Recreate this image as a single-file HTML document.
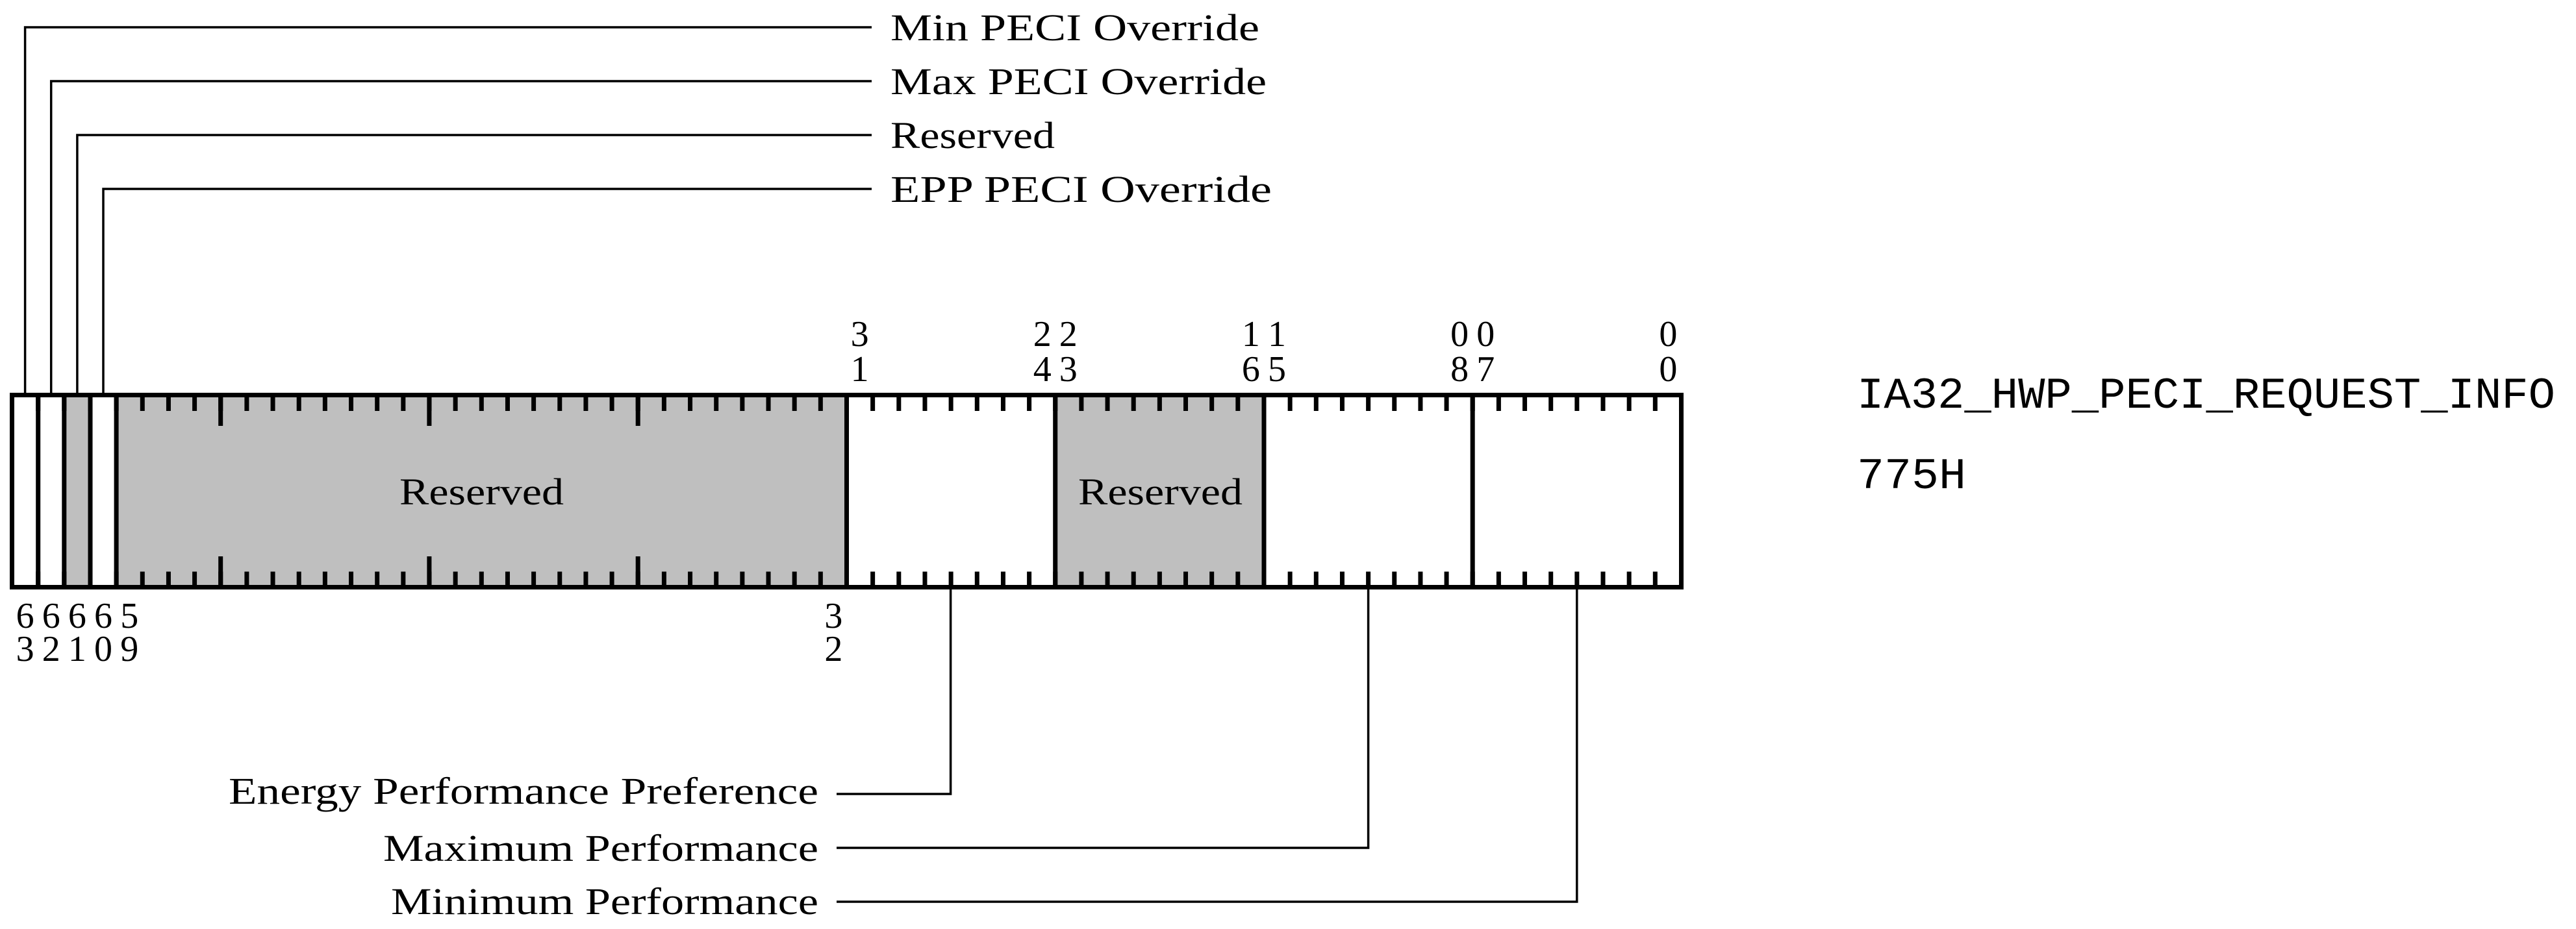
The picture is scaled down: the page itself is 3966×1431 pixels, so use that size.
<!DOCTYPE html>
<html><head><meta charset="utf-8"><style>
html,body{margin:0;padding:0;background:#fff;}
svg{display:block;}
.t{font-family:"Liberation Serif",serif;font-size:58px;fill:#000;}
.d{font-family:"Liberation Serif",serif;font-size:56px;fill:#000;text-anchor:middle;}
.m{font-family:"Liberation Mono",monospace;font-size:68px;fill:#000;}
</style></head><body>
<svg width="3966" height="1431" viewBox="0 0 3966 1431" xmlns="http://www.w3.org/2000/svg">
<!-- fills -->
<rect x="18.5" y="608.5" width="2570" height="296" fill="#fff"/>
<rect x="98.8" y="608.5" width="40.2" height="296" fill="#bfbfbf"/>
<rect x="179.1" y="608.5" width="1124.4" height="296" fill="#bfbfbf"/>
<rect x="1624.7" y="608.5" width="321.3" height="296" fill="#bfbfbf"/>
<!-- ticks -->
<line x1="18.5" y1="622.5" x2="2588.5" y2="622.5" stroke="#000" stroke-width="21" stroke-dasharray="7 33.156" stroke-dashoffset="3.5"/>
<line x1="18.5" y1="891" x2="2588.5" y2="891" stroke="#000" stroke-width="21" stroke-dasharray="7 33.156" stroke-dashoffset="3.5"/>
<g stroke="#000" stroke-width="7">
<line x1="339.7" y1="612" x2="339.7" y2="656"/><line x1="660.9" y1="612" x2="660.9" y2="656"/><line x1="982.2" y1="612" x2="982.2" y2="656"/>
<line x1="339.7" y1="857" x2="339.7" y2="901"/><line x1="660.9" y1="857" x2="660.9" y2="901"/><line x1="982.2" y1="857" x2="982.2" y2="901"/>
<!-- dividers -->
<line x1="58.7" y1="608" x2="58.7" y2="905"/><line x1="98.8" y1="608" x2="98.8" y2="905"/><line x1="139" y1="608" x2="139" y2="905"/><line x1="179.1" y1="608" x2="179.1" y2="905"/>
<line x1="1303.5" y1="608" x2="1303.5" y2="905"/><line x1="1624.7" y1="608" x2="1624.7" y2="905"/><line x1="1946" y1="608" x2="1946" y2="905"/><line x1="2267.2" y1="608" x2="2267.2" y2="905"/>
</g>
<rect x="18.5" y="608.5" width="2570" height="296" fill="none" stroke="#000" stroke-width="7"/>
<!-- top callouts -->
<g fill="none" stroke="#000" stroke-width="3.5">
<polyline points="38.6,605 38.6,42 1342,42"/>
<polyline points="78.7,605 78.7,125 1342,125"/>
<polyline points="118.9,605 118.9,208 1342,208"/>
<polyline points="159,605 159,291 1342,291"/>
<polyline points="1463.6,908 1463.6,1223 1288,1223"/>
<polyline points="2106.6,908 2106.6,1306 1288,1306"/>
<polyline points="2427.8,908 2427.8,1389 1288,1389"/>
</g>
<text class="t" x="1371" y="62" textLength="568" lengthAdjust="spacingAndGlyphs">Min PECI Override</text>
<text class="t" x="1371" y="145" textLength="579" lengthAdjust="spacingAndGlyphs">Max PECI Override</text>
<text class="t" x="1371" y="228" textLength="253" lengthAdjust="spacingAndGlyphs">Reserved</text>
<text class="t" x="1371" y="311" textLength="587" lengthAdjust="spacingAndGlyphs">EPP PECI Override</text>
<text class="t" x="352" y="1238" textLength="908" lengthAdjust="spacingAndGlyphs">Energy Performance Preference</text>
<text class="t" x="590" y="1326" textLength="670" lengthAdjust="spacingAndGlyphs">Maximum Performance</text>
<text class="t" x="602" y="1408" textLength="658" lengthAdjust="spacingAndGlyphs">Minimum Performance</text>
<text class="t" x="615" y="777" textLength="253" lengthAdjust="spacingAndGlyphs">Reserved</text>
<text class="t" x="1660" y="777" textLength="253" lengthAdjust="spacingAndGlyphs">Reserved</text>
<!-- bit numbers top -->
<text class="d" x="1323.6" y="533">3</text><text class="d" x="1323.6" y="587">1</text>
<text class="d" x="1604.7" y="533">2</text><text class="d" x="1644.8" y="533">2</text>
<text class="d" x="1604.7" y="587">4</text><text class="d" x="1644.8" y="587">3</text>
<text class="d" x="1925.9" y="533">1</text><text class="d" x="1966" y="533">1</text>
<text class="d" x="1925.9" y="587">6</text><text class="d" x="1966" y="587">5</text>
<text class="d" x="2247.1" y="533">0</text><text class="d" x="2287.3" y="533">0</text>
<text class="d" x="2247.1" y="587">8</text><text class="d" x="2287.3" y="587">7</text>
<text class="d" x="2568.4" y="533">0</text><text class="d" x="2568.4" y="587">0</text>
<!-- bit numbers bottom -->
<text class="d" x="38.6" y="967">6</text><text class="d" x="78.7" y="967">6</text><text class="d" x="118.9" y="967">6</text><text class="d" x="159" y="967">6</text><text class="d" x="199.2" y="967">5</text>
<text class="d" x="38.6" y="1018">3</text><text class="d" x="78.7" y="1018">2</text><text class="d" x="118.9" y="1018">1</text><text class="d" x="159" y="1018">0</text><text class="d" x="199.2" y="1018">9</text>
<text class="d" x="1283.4" y="967">3</text><text class="d" x="1283.4" y="1018">2</text>
<!-- title -->
<text class="m" x="2859" y="628" textLength="1075" lengthAdjust="spacingAndGlyphs">IA32_HWP_PECI_REQUEST_INFO</text>
<text class="m" x="2859" y="752" textLength="168" lengthAdjust="spacingAndGlyphs">775H</text>
</svg>
</body></html>
